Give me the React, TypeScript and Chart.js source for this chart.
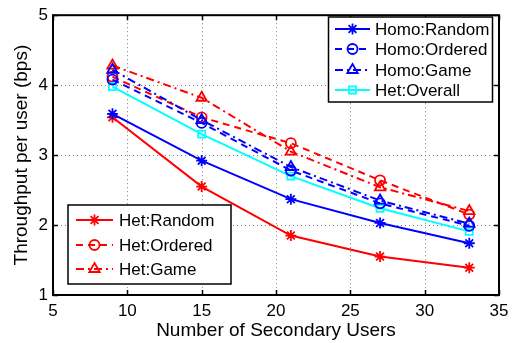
import { useEffect, useRef } from 'react';
import { Chart, registerables } from 'chart.js';
import { drawPoint } from 'chart.js/helpers';

Chart.register(...registerables);

const secondaryUsers = [9, 15, 21, 27, 33];
const homoRandom = [3.59, 2.92, 2.37, 2.03, 1.74];
const homoOrdered = [4.08, 3.46, 2.78, 2.31, 1.99];
const homoGame = [4.22, 3.5, 2.83, 2.35, 2.02];
const hetOverall = [3.98, 3.3, 2.7, 2.24, 1.91];
const hetRandom = [3.54, 2.55, 1.85, 1.55, 1.39];
const hetOrdered = [4.12, 3.54, 3.17, 2.64, 2.15];
const hetGame = [4.28, 3.82, 3.05, 2.54, 2.2];
const xTickValues = [5, 10, 15, 20, 25, 30, 35];
const yTickValues = [1, 2, 3, 4, 5];

const FONT = "'Liberation Sans', Arial, Helvetica, sans-serif";
const BLUE = '#0000ff';
const RED = '#ff0000';
const CYAN = '#00ffff';
const DASH = [7, 5];
const DASHDOT = [8, 4, 2, 4];

function series(label: string, values: number[], color: string, dash: number[], style: string, radius: number) {
  return {
    label,
    data: secondaryUsers.map((x, i) => ({ x, y: values[i] })),
    borderColor: color,
    backgroundColor: 'rgba(0,0,0,0)',
    borderWidth: 2,
    borderDash: dash,
    pointStyle: style,
    pointRadius: radius,
    pointBorderWidth: 1.8,
    pointBorderColor: color,
    pointBackgroundColor: 'rgba(0,0,0,0)',
    showLine: true,
    tension: 0,
  };
}

const framePlugin = {
  id: 'matlabFrame',
  beforeDatasetsDraw(chart: any) {
    const { ctx, chartArea: a, scales } = chart;
    ctx.save();
    ctx.strokeStyle = '#7f7f7f';
    ctx.lineWidth = 1;
    ctx.setLineDash([1, 3]);
    scales.x.ticks.forEach((t: any) => {
      const px = Math.round(scales.x.getPixelForValue(t.value)) + 0.5;
      if (px <= a.left + 1 || px >= a.right - 1) return;
      ctx.beginPath();
      ctx.moveTo(px, a.top);
      ctx.lineTo(px, a.bottom);
      ctx.stroke();
    });
    scales.y.ticks.forEach((t: any) => {
      const py = Math.round(scales.y.getPixelForValue(t.value)) + 0.5;
      if (py <= a.top + 1 || py >= a.bottom - 1) return;
      ctx.beginPath();
      ctx.moveTo(a.left, py);
      ctx.lineTo(a.right, py);
      ctx.stroke();
    });
    ctx.setLineDash([]);
    ctx.strokeStyle = '#000';
    ctx.lineWidth = 1.5;
    const tl = 5;
    scales.x.ticks.forEach((t: any) => {
      const px = Math.round(scales.x.getPixelForValue(t.value)) + 0.5;
      ctx.beginPath();
      ctx.moveTo(px, a.bottom);
      ctx.lineTo(px, a.bottom - tl);
      ctx.moveTo(px, a.top);
      ctx.lineTo(px, a.top + tl);
      ctx.stroke();
    });
    scales.y.ticks.forEach((t: any) => {
      const py = Math.round(scales.y.getPixelForValue(t.value)) + 0.5;
      ctx.beginPath();
      ctx.moveTo(a.left, py);
      ctx.lineTo(a.left + tl, py);
      ctx.moveTo(a.right, py);
      ctx.lineTo(a.right - tl, py);
      ctx.stroke();
    });
    ctx.lineWidth = 2;
    ctx.strokeRect(a.left, a.top, a.right - a.left, a.bottom - a.top);
    ctx.restore();
  },
};

function drawLegendBox(chart: any, indices: number[], box: { x: number; y: number; w: number; h: number }, rows: number[], lineX0: number, lineX1: number, textX: number) {
  const ctx = chart.ctx;
  ctx.save();
  ctx.fillStyle = '#fff';
  ctx.fillRect(box.x, box.y, box.w, box.h);
  ctx.strokeStyle = '#000';
  ctx.lineWidth = 1.5;
  ctx.setLineDash([]);
  ctx.strokeRect(box.x, box.y, box.w, box.h);
  indices.forEach((di, k) => {
    const ds = chart.data.datasets[di];
    const y = rows[k];
    ctx.strokeStyle = ds.borderColor;
    ctx.lineWidth = ds.borderWidth;
    ctx.setLineDash(ds.borderDash || []);
    ctx.beginPath();
    ctx.moveTo(lineX0, y);
    ctx.lineTo(lineX1, y);
    ctx.stroke();
    ctx.setLineDash([]);
    ctx.fillStyle = 'rgba(0,0,0,0)';
    ctx.lineWidth = ds.pointBorderWidth;
    drawPoint(ctx, { pointStyle: ds.pointStyle, radius: ds.pointRadius, borderWidth: ds.pointBorderWidth, rotation: 0 } as any, (lineX0 + lineX1) / 2, y);
    ctx.fillStyle = '#000';
    ctx.font = `17px ${FONT}`;
    ctx.textBaseline = 'middle';
    ctx.textAlign = 'left';
    ctx.fillText(ds.label, textX, y + 1);
  });
  ctx.restore();
}

const legendPlugin = {
  id: 'boxLegends',
  afterDatasetsDraw(chart: any) {
    drawLegendBox(chart, [0, 1, 2, 3], { x: 328.5, y: 17, w: 164, h: 85 }, [29, 49, 70, 90], 335, 370, 375);
    drawLegendBox(chart, [4, 5, 6], { x: 68, y: 205, w: 163, h: 79 }, [220, 245, 269], 76, 113, 119);
  },
};

export default function App() {
  const ref = useRef<HTMLCanvasElement | null>(null);
  useEffect(() => {
    if (!ref.current) return;
    const chart = new Chart(ref.current, {
      type: 'scatter',
      data: {
        datasets: [
          series('Homo:Random', homoRandom, BLUE, [], 'star', 5.5),
          series('Homo:Ordered', homoOrdered, BLUE, DASH, 'circle', 5),
          series('Homo:Game', homoGame, BLUE, DASHDOT, 'triangle', 6),
          series('Het:Overall', hetOverall, CYAN, [], 'rect', 5),
          series('Het:Random', hetRandom, RED, [], 'star', 5.5),
          series('Het:Ordered', hetOrdered, RED, DASH, 'circle', 5),
          series('Het:Game', hetGame, RED, DASHDOT, 'triangle', 6),
        ] as any,
      },
      options: {
        animation: false,
        responsive: false,
        maintainAspectRatio: false,
        layout: { padding: { top: 11, right: 19, left: 0, bottom: 0 } },
        plugins: { legend: { display: false }, tooltip: { enabled: false } },
        scales: {
          x: {
            type: 'linear',
            min: 5,
            max: 35,
            afterBuildTicks: (s: any) => {
              s.ticks = xTickValues.map((v) => ({ value: v }));
            },
            afterFit: (s: any) => {
              s.height = 48;
            },
            grid: { display: false, drawTicks: false },
            border: { display: false },
            ticks: { color: '#000', font: { family: FONT, size: 17 }, padding: 6, maxRotation: 0, autoSkip: false },
            title: {
              display: true,
              text: 'Number of Secondary Users',
              color: '#000',
              font: { family: FONT, size: 19 },
              padding: { top: 0, bottom: 1 },
            },
          },
          y: {
            type: 'linear',
            min: 1,
            max: 5,
            afterBuildTicks: (s: any) => {
              s.ticks = yTickValues.map((v) => ({ value: v }));
            },
            afterFit: (s: any) => {
              s.width = 53;
            },
            grid: { display: false, drawTicks: false },
            border: { display: false },
            ticks: { color: '#000', font: { family: FONT, size: 17 }, padding: 5 },
            title: {
              display: true,
              text: 'Throughput per user (bps)',
              color: '#000',
              font: { family: FONT, size: 19 },
              padding: { top: 10, bottom: 0 },
            },
          },
        },
      },
      plugins: [framePlugin, legendPlugin],
    });
    return () => chart.destroy();
  }, []);
  return (
    <canvas
      ref={ref}
      width={518}
      height={343}
      style={{ position: 'absolute', left: 0, top: 0, width: 518, height: 343, background: '#fff' }}
    />
  );
}
